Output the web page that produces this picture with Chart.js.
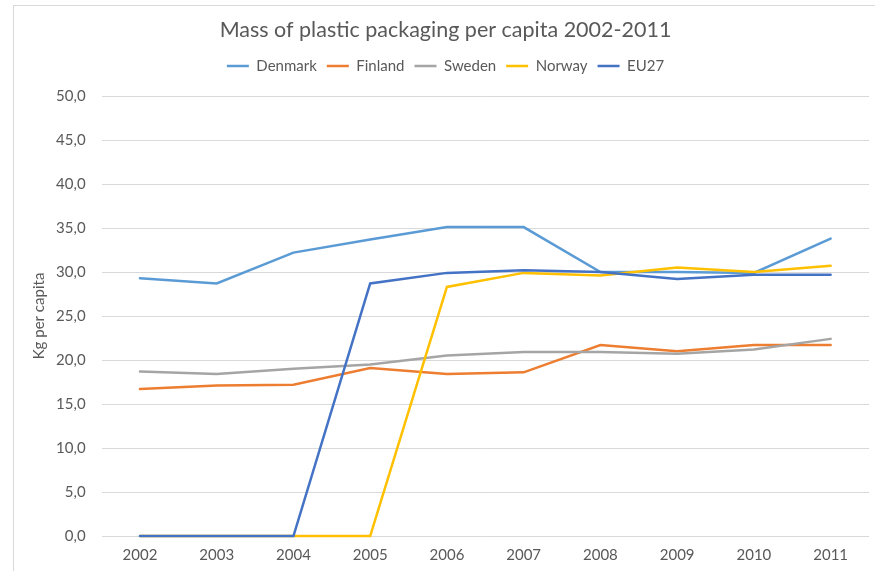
<!DOCTYPE html>
<html>
<head>
<meta charset="utf-8">
<script src="https://cdn.jsdelivr.net/npm/chart.js@4"></script>
<style>
  html, body { margin: 0; padding: 0; background: #fff; overflow: hidden; }
  #wrap { position: relative; width: 875px; height: 571px; }
  #frame { position: absolute; left: 13px; top: 5px; width: 900px; height: 600px; border: 1px solid #d9d9d9; }
  canvas { position: absolute; left: 0; top: 0; }
</style>
</head>
<body>
<div id="wrap">
  <div id="frame"></div>
  <canvas id="chart" width="875" height="571"></canvas>
</div>
<script>
const years = ['2002', '2003', '2004', '2005', '2006', '2007', '2008', '2009', '2010', '2011'];
const denmark = [29.3, 28.7, 32.2, 33.7, 35.1, 35.1, 30.0, 30.0, 29.9, 33.8];
const finland = [16.7, 17.1, 17.2, 19.1, 18.4, 18.6, 21.7, 21.0, 21.7, 21.7];
const sweden = [18.7, 18.4, 19.0, 19.5, 20.5, 20.9, 20.9, 20.7, 21.2, 22.4];
const norway = [0, 0, 0, 0, 28.3, 29.9, 29.6, 30.5, 30.0, 30.7];
const eu27 = [0, 0, 0, 28.7, 29.9, 30.2, 30.0, 29.2, 29.7, 29.7];

const textColor = '#595959';
const gridColor = '#d9d9d9';
const font = 'Lato, "Open Sans", sans-serif';

function series(label, data, color, order) {
    return {
        label: label,
        data: data,
        borderColor: color,
        backgroundColor: color,
        borderWidth: 2.5,
        borderCapStyle: 'round',
        pointRadius: 0,
        tension: 0,
        clip: false, // keep the full line width along the zero line
        order: order,
    };
}

// push the plot area down a bit below the legend
const legendGap = {
    id: 'legendGap',
    afterInit(chart) {
        const fit = chart.legend.fit;
        chart.legend.fit = function () {
            fit.call(this);
            this.height += 12.5;
        };
    },
};

new Chart(document.getElementById('chart'), {
    type: 'line',
    data: {
        labels: years,
        datasets: [
            series('Denmark', denmark, '#5b9bd5', 5),
            series('Finland', finland, '#ed7d31', 4),
            series('Sweden', sweden, '#a5a5a5', 3),
            series('Norway', norway, '#ffc000', 2),
            series('EU27', eu27, '#4472c4', 1),
        ],
    },
    plugins: [legendGap],
    options: {
        responsive: false,
        animation: false,
        layout: { padding: { left: 22, right: 6, top: 0, bottom: 7 } },
        plugins: {
            title: {
                display: true,
                text: 'Mass of plastic packaging per capita 2002-2011',
                color: textColor,
                font: { family: font, size: 21.5, weight: 'normal' },
                padding: { top: 17, bottom: 5.7 },
            },
            legend: {
                labels: {
                    color: textColor,
                    font: { family: font, size: 15 },
                    usePointStyle: true,
                    pointStyle: 'line',
                    pointStyleWidth: 22,
                    padding: 10,
                    sort: (a, b) => a.datasetIndex - b.datasetIndex,
                },
            },
            tooltip: { enabled: false },
        },
        scales: {
            x: {
                offset: true,
                afterFit: (scale) => { scale.height = 28; },
                grid: { display: false, drawTicks: false },
                border: { display: false },
                ticks: { color: textColor, font: { family: font, size: 15 }, padding: 10 },
            },
            y: {
                min: 0,
                max: 50,
                afterFit: (scale) => { scale.width = 101.6 - 22; },
                ticks: {
                    stepSize: 5,
                    color: textColor,
                    font: { family: font, size: 15 },
                    padding: 16,
                    callback: (v) => v.toFixed(1).replace('.', ','),
                },
                grid: { color: gridColor, drawTicks: false },
                border: { display: false },
                title: {
                    display: true,
                    text: 'Kg per capita',
                    color: textColor,
                    font: { family: font, size: 15 },
                    padding: 8,
                },
            },
        },
    },
});
</script>
</body>
</html>
